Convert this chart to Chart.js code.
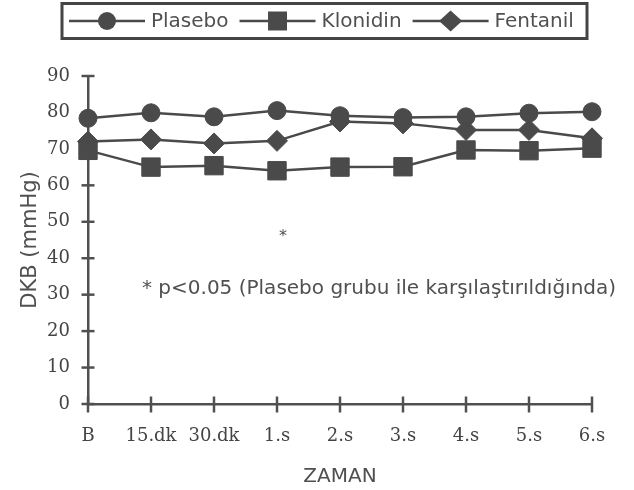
<!DOCTYPE html>
<html><head><meta charset="utf-8">
<script src="https://cdn.jsdelivr.net/npm/chart.js@4.4.1/dist/chart.umd.min.js"></script>
<style>html,body{margin:0;padding:0;background:#fff}#wrap{width:634px;height:490px}</style>
</head><body><div id="wrap"><canvas id="c" width="634" height="490"></canvas></div>
<script>
const categories = ['B', '15.dk', '30.dk', '1.s', '2.s', '3.s', '4.s', '5.s', '6.s'];
const seriesNames = ['Plasebo', 'Klonidin', 'Fentanil'];
const plaseboValues = [78.4, 79.9, 78.8, 80.5, 79.1, 78.6, 78.8, 79.8, 80.2];
const klonidinValues = [69.6, 65.0, 65.4, 64.0, 65.0, 65.1, 69.7, 69.5, 70.2];
const fentanilValues = [72.0, 72.6, 71.5, 72.2, 77.5, 77.0, 75.2, 75.2, 72.9];
const yMin = 0, yMax = 90, yStep = 10;
const yTitle = 'DKB (mmHg)';
const xTitle = 'ZAMAN';
const sigMarkIndex = 3;
const sigMarkValue = 46.5;
const sigMarkText = '*';
const footnoteText = '* p<0.05 (Plasebo grubu ile karşılaştırıldığında)';
const footnoteValue = 31.6;

const MARK = '#4a4a4a';
const AXIS = '#505050';
const SANS = '"DejaVu Sans", sans-serif';
const SERIF = '"DejaVu Serif", serif';
const TEXT = '#505050';

function ds(label, data, style, radius) {
  return {
    label, data, pointStyle: style, pointRadius: radius, pointHoverRadius: radius,
    borderColor: MARK, backgroundColor: MARK, pointBackgroundColor: MARK, pointBorderColor: MARK,
    pointBorderWidth: 1, borderWidth: 2.5, tension: 0, clip: false, fill: false
  };
}

function drawMarker(ctx, style, x, y) {
  ctx.beginPath();
  if (style === 'circle') { ctx.arc(x, y, 9, 0, Math.PI * 2); }
  else if (style === 'rect') { ctx.rect(x - 9.5, y - 9.5, 19, 19); }
  else { ctx.moveTo(x - 11.5, y); ctx.lineTo(x, y - 10.5); ctx.lineTo(x + 11.5, y); ctx.lineTo(x, y + 10.5); ctx.closePath(); }
  ctx.fill();
}

const decorPlugin = {
  id: 'decor',
  beforeDatasetsDraw(chart) {
    const ctx = chart.ctx, xs = chart.scales.x, ys = chart.scales.y;
    const left = chart.chartArea.left, bottom = chart.chartArea.bottom;
    ctx.save();
    ctx.strokeStyle = AXIS; ctx.lineWidth = 2.5;
    ys.ticks.forEach(t => {
      const y = ys.getPixelForValue(t.value);
      ctx.beginPath(); ctx.moveTo(left - 6.5, y); ctx.lineTo(left + 6.5, y); ctx.stroke();
    });
    categories.forEach((c, i) => {
      const x = xs.getPixelForValue(i);
      ctx.beginPath(); ctx.moveTo(x, bottom - 7.5); ctx.lineTo(x, bottom + 8.5); ctx.stroke();
    });
    ctx.restore();
  },
  afterDraw(chart) {
    const ctx = chart.ctx, xs = chart.scales.x, ys = chart.scales.y;
    ctx.save();
    ctx.fillStyle = TEXT;
    ctx.font = '16px ' + SANS;
    ctx.textAlign = 'center'; ctx.textBaseline = 'middle';
    ctx.fillText(sigMarkText, xs.getPixelForValue(sigMarkIndex) + 6, ys.getPixelForValue(sigMarkValue) + 2);
    ctx.font = '20px ' + SANS;
    ctx.textAlign = 'left';
    ctx.fillText(footnoteText, 142, ys.getPixelForValue(footnoteValue));
    const cy = 21;
    ctx.strokeStyle = '#454545'; ctx.lineWidth = 3;
    ctx.strokeRect(62, 3.5, 525, 35);
    let x = 69;
    chart.data.datasets.forEach(d => {
      ctx.strokeStyle = MARK; ctx.lineWidth = 2.5;
      ctx.beginPath(); ctx.moveTo(x, cy); ctx.lineTo(x + 76, cy); ctx.stroke();
      ctx.fillStyle = MARK;
      drawMarker(ctx, d.pointStyle, x + 38, cy);
      ctx.fillStyle = TEXT;
      ctx.font = '20px ' + SANS;
      ctx.textAlign = 'left'; ctx.textBaseline = 'middle';
      ctx.fillText(d.label, x + 82, cy + 1);
      x = x + 82 + ctx.measureText(d.label).width + 11;
    });
    ctx.restore();
  }
};

new Chart(document.getElementById('c'), {
  type: 'line',
  data: {
    labels: categories,
    datasets: [
      ds(seriesNames[0], plaseboValues, 'circle', 9),
      ds(seriesNames[1], klonidinValues, 'rect', 13),
      ds(seriesNames[2], fentanilValues, 'rectRot', 10.5)
    ]
  },
  options: {
    responsive: false,
    animation: false,
    devicePixelRatio: 1,
    layout: { padding: { top: 76, right: 42, left: 0, bottom: 0 } },
    plugins: { legend: { display: false }, tooltip: { enabled: false } },
    scales: {
      x: {
        type: 'category',
        offset: false,
        grid: { display: false, drawTicks: false },
        border: { display: true, color: AXIS, width: 2.5 },
        ticks: { color: '#444444', font: { family: SERIF, size: 18 }, padding: 22, autoSkip: false, maxRotation: 0 },
        title: { display: true, text: xTitle, color: TEXT, font: { family: SANS, size: 20 }, padding: { top: 0, bottom: 1 } },
        afterFit(s) { s.height = 86; }
      },
      y: {
        min: yMin, max: yMax,
        grid: { display: false, drawTicks: false },
        border: { display: true, color: AXIS, width: 2.5 },
        ticks: { stepSize: yStep, color: '#444444', font: { family: SERIF, size: 18 }, padding: 18 },
        title: { display: true, text: yTitle, color: TEXT, font: { family: SANS, size: 21 }, padding: { top: 18, bottom: 0 } },
        afterFit(s) { s.width = 88; }
      }
    }
  },
  plugins: [decorPlugin]
});
</script>
</body></html>
